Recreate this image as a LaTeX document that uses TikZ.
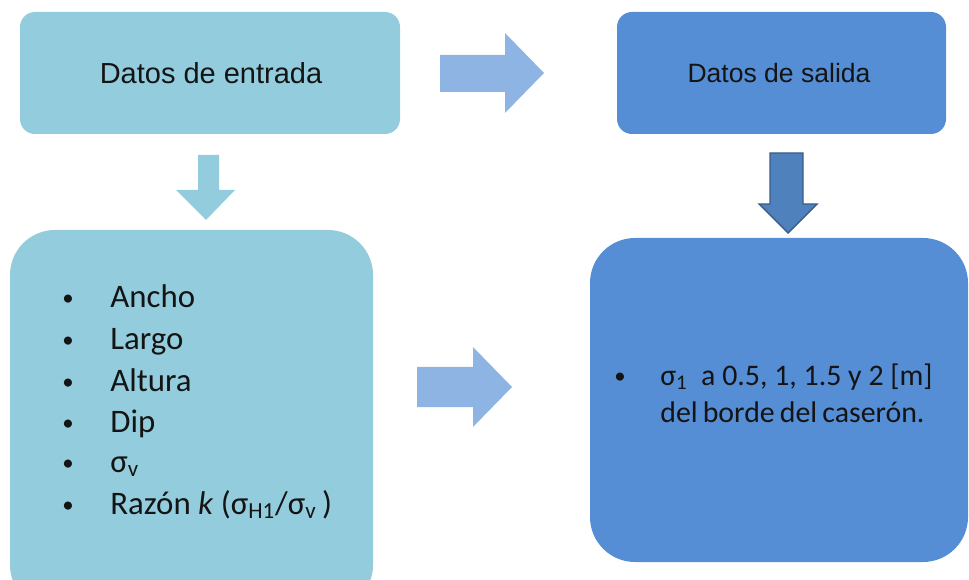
\documentclass[tikz,border=0pt]{standalone}
\usepackage{fontspec}
\setmainfont{Carlito}
\newfontfamily\arialf{Liberation Sans}
\definecolor{lblue}{RGB}{147,205,221}
\definecolor{dblue}{RGB}{85,142,213}
\definecolor{ablue}{RGB}{142,180,227}
\definecolor{sblue}{RGB}{79,129,189}
\definecolor{sbord}{RGB}{56,93,138}
\definecolor{txt}{RGB}{20,20,20}
\begin{document}
\begin{tikzpicture}[x=0.02cm,y=-0.02cm,
  lst/.style={anchor=base west, inner sep=0pt, font=\fontsize{18.7}{23}\selectfont, text=txt},
  bul/.style={anchor=base, inner sep=0pt, font=\fontsize{13}{16}\selectfont, text=txt},
  rtx/.style={anchor=base west, inner sep=0pt, font=\fontsize{17}{21}\selectfont, text=txt}]
\useasboundingbox (0,0) rectangle (969,580);
\clip (0,0) rectangle (969,580);
% boxes
\fill[lblue, rounded corners=0.3cm] (20,12) rectangle (400,134);
\node[inner sep=0pt] (in) at (211,73) {};
\fill[dblue, rounded corners=0.3cm] (617,12) rectangle (946,134);
\node[inner sep=0pt] (out) at (779,73) {};
\fill[lblue, rounded corners=0.9cm] (10,230) rectangle (373,610);
\node[inner sep=0pt] (lst) at (191,400) {};
\fill[dblue, rounded corners=0.9cm] (590,238) rectangle (968,562);
\node[inner sep=0pt] (res) at (779,400) {};
% titles
\node[text=txt, font=\arialf\fontsize{16.5}{19}\selectfont] at (in) {Datos de entrada};
\node[text=txt, font=\arialf\fontsize{15.1}{18}\selectfont] at (out) {Datos de salida};
% block arrows
\fill[ablue] (440,55) -- (505,55) -- (505,33) -- (544,73) -- (505,113) -- (505,92) -- (440,92) -- cycle;
\fill[lblue] (198,155) -- (219,155) -- (219,190) -- (235,190) -- (206,220) -- (176,190) -- (198,190) -- cycle;
\fill[ablue] (417,367) -- (473,367) -- (473,347) -- (512,387) -- (473,427) -- (473,407) -- (417,407) -- cycle;
\filldraw[fill=sblue, draw=sbord, line width=0.8pt] (770,153) -- (803,153) -- (803,204) -- (817,204) -- (788,233) -- (759,204) -- (770,204) -- cycle;
% list
\foreach \t/\y [count=\i] in {Ancho/308, Largo/350, Altura/391, Dip/432,
  {σ\textsubscript{v}}/472, {Razón \textit{k} (σ\textsubscript{H1}/σ\textsubscript{v}\,)}/514}{
  \node[bul] (b\i) at (68,\y-2) {•};
  \node[lst] (l\i) at (110,\y) {\t};
}
% result text
\node[bul] (rb) at (620,383) {•};
\node[rtx] (r1) at (660,385) {σ\textsubscript{1}\ \ a 0.5, 1, 1.5 y 2 [m]};
\node[rtx] (r2) at (660,422) {\spaceskip=0.17em del borde del caserón.};
\end{tikzpicture}
\end{document}
